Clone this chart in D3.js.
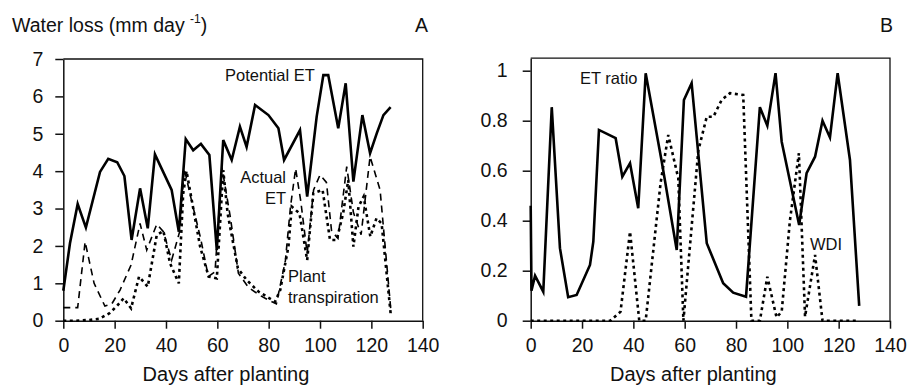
<!DOCTYPE html>
<html>
<head>
<meta charset="utf-8">
<script src="https://cdn.jsdelivr.net/npm/d3@7"></script>
<style>
  html, body { margin: 0; padding: 0; background: #fff; }
  svg text { font-family: "Liberation Sans", Arial, sans-serif; fill: #111; }
</style>
</head>
<body>
<svg id="chart" width="917" height="386"></svg>
<script>
// ---- Panel A: water loss (mm/day) ----
const petDays = [0, 2.6, 5.6, 8.8, 14.3, 17.5, 21, 23.8, 26.6, 29.9, 32.9, 35.7, 42.2, 45, 47.7, 50.6, 53.6, 56.9, 59.8, 62.3, 65.6, 68.8, 71.4, 74.7, 79.9, 83.8, 86, 92.2, 95, 98.7, 101.3, 103.2, 107.1, 110, 113, 116.5, 119.5, 122.1, 124.7, 127.5];
const petValues = [0.8, 2.07, 3.12, 2.49, 3.98, 4.33, 4.24, 3.87, 2.16, 3.54, 2.47, 4.45, 3.5, 2.38, 4.86, 4.56, 4.73, 4.43, 1.89, 4.83, 4.3, 5.19, 4.65, 5.77, 5.5, 5.15, 4.3, 5.1, 3.32, 5.46, 6.57, 6.57, 5.15, 6.35, 3.72, 5.5, 4.48, 5.01, 5.5, 5.71];

const aetDays = [0, 5.6, 8.5, 12, 16.2, 18.9, 22.1, 26.4, 29.9, 32.5, 36.4, 39, 42.2, 45.4, 47.1, 50, 53.5, 56.5, 59.1, 61.8, 65, 68.2, 72, 76, 80, 83, 86.5, 88.5, 90.5, 92.5, 95, 97.5, 100, 102.5, 104.5, 107, 110.4, 113, 116, 119.5, 123.4, 127.7];
const aetValues = [0.35, 0.35, 2.11, 1.0, 0.39, 0.45, 0.82, 1.49, 2.6, 1.89, 2.58, 2.38, 1.62, 2.4, 4.07, 3.2, 2.2, 1.18, 1.31, 4.1, 2.8, 1.27, 0.9, 0.7, 0.55, 0.45, 1.6, 3.05, 4.07, 3.2, 1.8, 3.5, 3.9, 3.7, 2.4, 2.2, 4.12, 2.9, 2.3, 4.39, 3.5, 0.2];

const ptDays = [0, 5, 10, 14, 18, 21, 23.5, 26.4, 29.5, 32.9, 36.4, 39, 41.6, 45, 46.7, 48, 53.3, 56.6, 59.8, 62.3, 64, 68, 71.4, 76, 82.5, 84.5, 87.7, 89, 92, 95, 97.4, 101, 103.9, 106.5, 109, 111, 113, 115, 117, 119.6, 122, 124, 127.5];
const ptValues = [0, 0, 0.02, 0.05, 0.2, 0.4, 0.6, 0.33, 1.18, 0.91, 2.29, 2.4, 1.53, 1.0, 3.4, 4.0, 1.98, 1.18, 1.13, 4.03, 2.87, 1.4, 1.09, 0.78, 0.51, 0.82, 1.98, 3.05, 2.87, 1.62, 3.41, 3.5, 2.16, 2.16, 2.87, 3.76, 1.98, 3.05, 3.32, 2.25, 2.74, 2.6, 0.2];

// ---- Panel B: ET ratio and water deficit index ----
const etrDays = [0, 0.3, 1.7, 4.9, 8.2, 11.4, 14.6, 17.9, 23.1, 24.4, 26.6, 33.1, 35.7, 38.7, 41.9, 44.8, 51, 56.9, 59.7, 62.7, 68.6, 75, 78.9, 83.9, 89.3, 92.2, 95.4, 97.8, 104.6, 107.5, 110.8, 113.7, 116.6, 119.6, 124.4, 128];
const etrValues = [0.46, 0.12, 0.18, 0.116, 0.854, 0.29, 0.094, 0.103, 0.223, 0.316, 0.763, 0.73, 0.576, 0.63, 0.45, 0.99, 0.64, 0.283, 0.883, 0.95, 0.31, 0.15, 0.112, 0.096, 0.854, 0.78, 0.99, 0.716, 0.383, 0.59, 0.656, 0.8, 0.733, 0.99, 0.643, 0.059];

const wdiDays = [0, 31, 35, 38.7, 42.3, 44.8, 50.6, 53.6, 57.5, 59.5, 65.3, 68.6, 71.2, 74.4, 77.6, 82.8, 86, 89.3, 92.2, 95.8, 97.8, 101, 104.5, 106.9, 110.8, 113.7, 127.6];
const wdiValues = [0, 0, 0.036, 0.356, 0, 0, 0.55, 0.743, 0.57, 0, 0.68, 0.816, 0.816, 0.883, 0.91, 0.903, 0, 0, 0.176, 0.013, 0.036, 0.4, 0.67, 0.016, 0.263, 0, 0];

const xTicks = [0, 20, 40, 60, 80, 100, 120, 140];
const yTicksA = [0, 1, 2, 3, 4, 5, 6, 7];
const yTicksB = [0, 0.2, 0.4, 0.6, 0.8, 1];
const yTickLabelsB = ["0", "0.2", "0.4", "0.6", "0.8", "1"];

const svg = d3.select("#chart");

function zip(days, vals) { return days.map((d, i) => [d, vals[i]]); }

function panel(opts) {
  const g = svg.append("g");
  const x = d3.scaleLinear().domain([0, 140]).range([opts.x0, opts.x1]);
  const y = d3.scaleLinear().domain(opts.yDomain).range([opts.y0, opts.y1]);

  // frame: top and right edges
  g.append("path")
    .attr("d", `M${opts.x0},${opts.y1}H${opts.x1}V${opts.y0}`)
    .attr("fill", "none").attr("stroke", "#111").attr("stroke-width", 1.3);

  const xa = g.append("g").attr("transform", `translate(0,${opts.y0})`)
    .call(d3.axisBottom(x).tickValues(xTicks).tickSize(8).tickPadding(9).tickSizeOuter(0));
  const ya = g.append("g").attr("transform", `translate(${opts.x0},0)`)
    .call(d3.axisLeft(y).tickValues(opts.yTicks).tickSize(8).tickPadding(opts.yPad).tickSizeOuter(0)
      .tickFormat(opts.yFormat));
  [xa, ya].forEach(a => {
    a.selectAll("path.domain").attr("stroke", "#111").attr("stroke-width", 1.5);
    a.selectAll(".tick line").attr("stroke", "#111").attr("stroke-width", 1.5);
    a.selectAll(".tick text").attr("font-size", 19.5).attr("fill", "#111")
      .style("font-family", "'Liberation Sans', Arial, sans-serif");
  });

  const line = d3.line().x(d => x(d[0])).y(d => y(d[1]));
  opts.series.forEach(s => {
    g.append("path").datum(s.data).attr("d", line)
      .attr("fill", "none").attr("stroke", "#000")
      .attr("stroke-width", s.width)
      .attr("stroke-dasharray", s.dash || null)
      .attr("stroke-linejoin", "miter");
  });

  g.append("text").attr("x", (opts.x0 + opts.x1) / 2 - 17).attr("y", 381)
    .attr("text-anchor", "middle").attr("font-size", 20).text("Days after planting");
  return { g, x, y };
}

panel({
  x0: 63.3, x1: 422.7, y0: 320.7, y1: 59, yDomain: [0, 7], yTicks: yTicksA, yPad: 12,
  yFormat: d3.format("d"),
  series: [
    { data: zip(aetDays, aetValues), width: 1.6, dash: "7,5" },
    { data: zip(ptDays, ptValues), width: 2.6, dash: "3,3.5" },
    { data: zip(petDays, petValues), width: 2.6 }
  ]
});

panel({
  x0: 530.7, x1: 890, y0: 320.7, y1: 58.2, yDomain: [0, 1.05], yTicks: yTicksB, yPad: 15,
  yFormat: (d, i) => yTickLabelsB[i],
  series: [
    { data: zip(wdiDays, wdiValues), width: 2.6, dash: "3,3.5" },
    { data: zip(etrDays, etrValues), width: 2.6 }
  ]
});

// titles and panel letters
const title = svg.append("text").attr("x", 12).attr("y", 32).attr("font-size", 19.5);
title.append("tspan").text("Water loss (mm day ");
title.append("tspan").attr("font-size", 12).attr("dy", -9).text("-1");
title.append("tspan").attr("dy", 9).text(")");
svg.append("text").attr("x", 415).attr("y", 32).attr("font-size", 19.5).text("A");
svg.append("text").attr("x", 880).attr("y", 32).attr("font-size", 19.5).text("B");

// series labels
const lab = (x, y, t, anchor) => svg.append("text").attr("x", x).attr("y", y)
  .attr("font-size", 16.5).attr("text-anchor", anchor || "start").text(t);
lab(225, 81, "Potential ET");
lab(286, 183, "Actual", "end");
lab(286, 203.5, "ET", "end");
lab(288, 282, "Plant");
lab(288, 303, "transpiration");
lab(580, 84, "ET ratio");
lab(810, 250, "WDI");
</script>
</body>
</html>
